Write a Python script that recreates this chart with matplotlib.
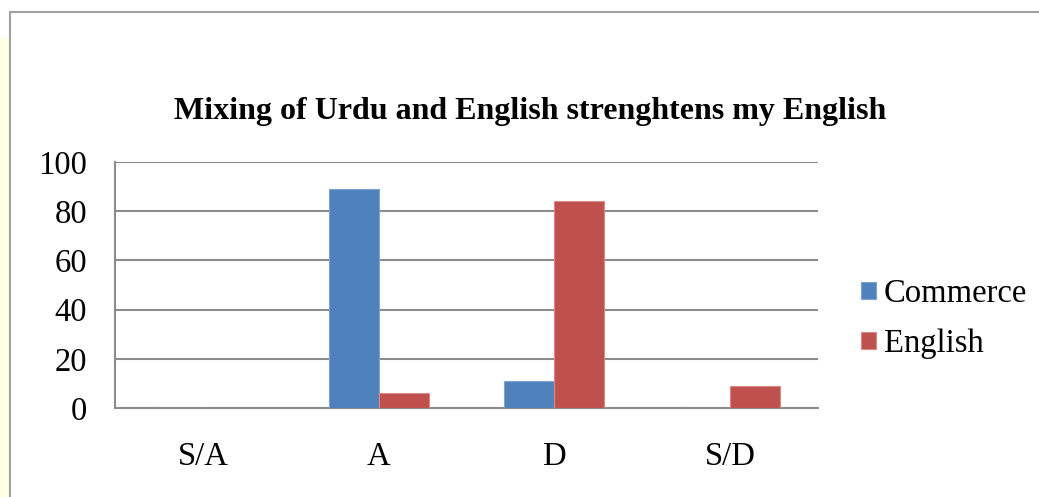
import matplotlib.pyplot as plt
import numpy as np
from matplotlib.lines import Line2D
from matplotlib.patches import Rectangle

categories = ["S/A", "A", "D", "S/D"]
commerce = [0, 89, 11, 0]
english = [0, 6, 84, 9]
series_names = ["Commerce", "English"]
colors = ["#4F81BD", "#C0504D"]
title = "Mixing of Urdu and English strenghtens my English"

plt.rcParams["font.family"] = ["Liberation Serif", "DejaVu Serif"]

W, H = 1039, 497
fig = plt.figure(figsize=(W / 100, H / 100), dpi=100)
fig.patch.set_facecolor("white")

# page decoration: yellow margin strip and gray frame
fig.add_artist(Rectangle((0, 0), 9 / W, 1 - 37 / H, transform=fig.transFigure,
                         facecolor="#FFFFE6", edgecolor="none"))
fig.add_artist(Line2D([9.5 / W, 9.5 / W], [0, 1 - 12 / H], transform=fig.transFigure,
                      color="#A0A0A0", lw=1.5))
fig.add_artist(Line2D([9.5 / W, 1], [1 - 12 / H, 1 - 12 / H], transform=fig.transFigure,
                      color="#A0A0A0", lw=1.5))

ax = fig.add_axes([115 / W, 1 - 408 / H, (818 - 115) / W, (408 - 162) / H])

x = np.arange(len(categories))
width = 0.285
ax.bar(x - width / 2, commerce, width, color=colors[0], edgecolor="#7FA3D1",
       linewidth=0.8, label=series_names[0], zorder=3)
ax.bar(x + width / 2, english, width, color=colors[1], edgecolor="#D98A88",
       linewidth=0.8, label=series_names[1], zorder=3)

ax.set_xlim(-0.5, len(categories) - 0.5)
ax.set_ylim(0, 100)
ax.set_yticks(range(0, 101, 20))
ax.set_xticks(x)
ax.set_xticklabels(categories)
ax.tick_params(axis="both", length=0, labelsize=23.5)
ax.tick_params(axis="x", pad=24)
ax.tick_params(axis="y", pad=20)
ax.yaxis.grid(True, color="#8C8C8C", linewidth=1.5, zorder=0)

for side in ["top", "right"]:
    ax.spines[side].set_visible(False)
ax.spines["left"].set_color("#8C8C8C")
ax.spines["bottom"].set_color("#8C8C8C")
ax.spines["left"].set_linewidth(1.5)
ax.spines["bottom"].set_linewidth(1.5)

fig.text(530 / W, 1 - 112 / H, title, ha="center", va="center",
         fontsize=23, fontweight="bold")

ax.legend(loc="center left", bbox_to_anchor=(848 / W, 1 - 319 / H),
          bbox_transform=fig.transFigure, frameon=False, fontsize=23.5,
          handlelength=0.45, handleheight=0.45, handletextpad=0.25,
          labelspacing=0.6, borderaxespad=0)

fig.savefig("out.png", dpi=100)
